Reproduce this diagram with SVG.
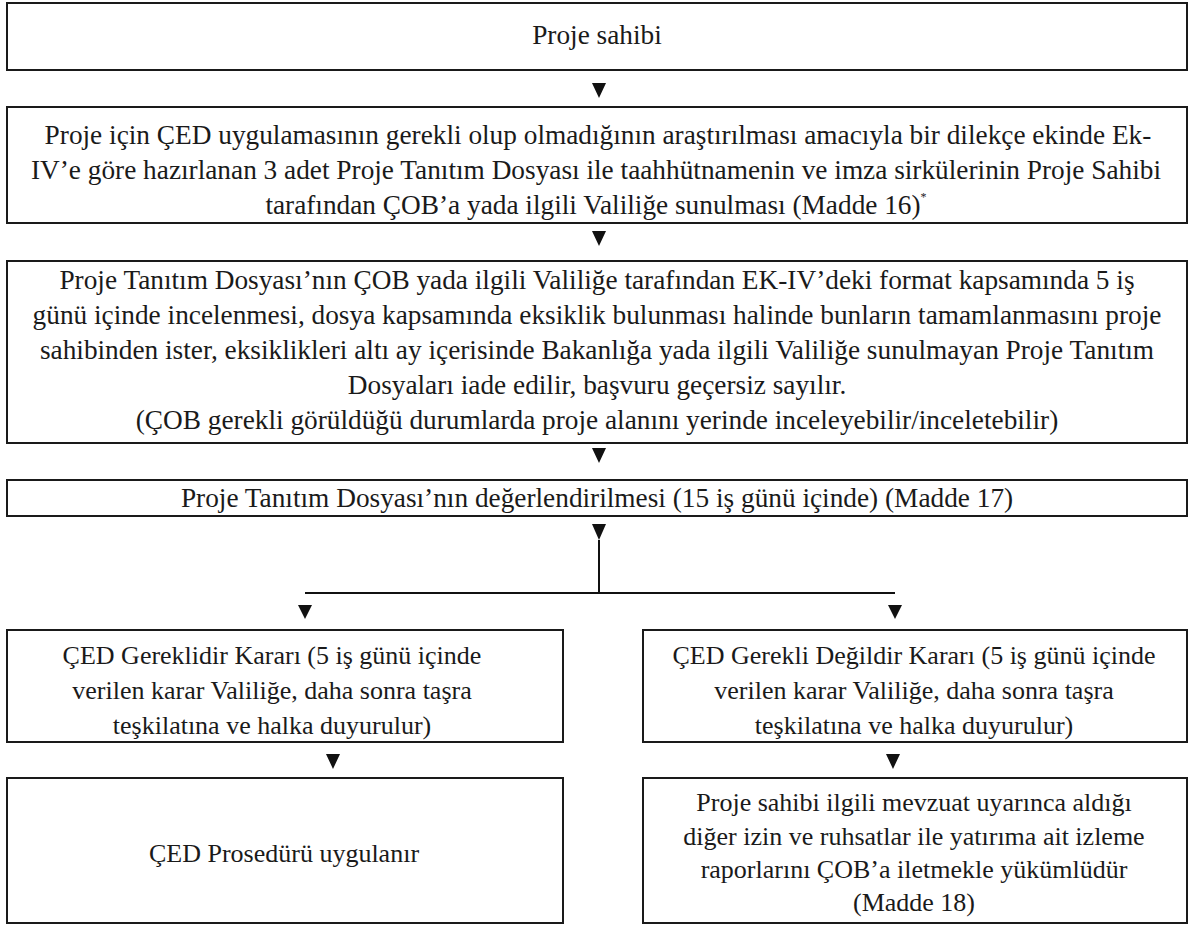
<svg xmlns="http://www.w3.org/2000/svg" width="1189" height="926" viewBox="0 0 1189 926">
<style>
.box{fill:#fff;stroke:#1a1a1a;stroke-width:2}
.t{font-family:'Liberation Serif','DejaVu Serif','Times New Roman',serif;font-size:27.3px;fill:#1a1a1a;text-anchor:middle}
.s{font-size:26px}
.arr{fill:#111}
.ln{stroke:#111;stroke-width:2;fill:none}
</style>
<rect width="1189" height="926" fill="#fff"/>
<g id="n1"><rect class="box" x="7" y="3" width="1180" height="67"/><text class="t" x="597" y="44">Proje sahibi</text></g>
<g id="n2"><rect class="box" x="7" y="107" width="1180" height="116"/>
<text class="t" x="598" y="144">Proje için ÇED uygulamasının gerekli olup olmadığının araştırılması amacıyla bir dilekçe ekinde Ek-</text>
<text class="t" x="596" y="179">IV’e göre hazırlanan 3 adet Proje Tanıtım Dosyası ile taahhütnamenin ve imza sirkülerinin Proje Sahibi</text>
<text class="t" x="596" y="214">tarafından ÇOB’a yada ilgili Valiliğe sunulması (Madde 16)<tspan font-size="12" dy="-13">*</tspan></text></g>
<g id="n3"><rect class="box" x="7" y="261" width="1180" height="182"/>
<text class="t" x="597" y="289">Proje Tanıtım Dosyası’nın ÇOB yada ilgili Valiliğe tarafından EK-IV’deki format kapsamında 5 iş</text>
<text class="t" x="597" y="324">günü içinde incelenmesi, dosya kapsamında eksiklik bulunması halinde bunların tamamlanmasını proje</text>
<text class="t" x="597" y="359">sahibinden ister, eksiklikleri altı ay içerisinde Bakanlığa yada ilgili Valiliğe sunulmayan Proje Tanıtım</text>
<text class="t" x="597" y="394">Dosyaları iade edilir, başvuru geçersiz sayılır.</text>
<text class="t" x="597" y="429">(ÇOB gerekli görüldüğü durumlarda proje alanını yerinde inceleyebilir/inceletebilir)</text></g>
<g id="n4"><rect class="box" x="7" y="480" width="1180" height="36"/>
<text class="t" x="597" y="507">Proje Tanıtım Dosyası’nın değerlendirilmesi (15 iş günü içinde) (Madde 17)</text></g>
<g id="n5"><rect class="box" x="7" y="630" width="556" height="112"/>
<text class="t s" x="272" y="664">ÇED Gereklidir Kararı (5 iş günü içinde</text>
<text class="t s" x="272" y="699">verilen karar Valiliğe, daha sonra taşra</text>
<text class="t s" x="272" y="734">teşkilatına ve halka duyurulur)</text></g>
<g id="n6"><rect class="box" x="643" y="630" width="544" height="112"/>
<text class="t s" x="914" y="664">ÇED Gerekli Değildir Kararı (5 iş günü içinde</text>
<text class="t s" x="914" y="699">verilen karar Valiliğe, daha sonra taşra</text>
<text class="t s" x="914" y="734">teşkilatına ve halka duyurulur)</text></g>
<g id="n7"><rect class="box" x="7" y="778" width="556" height="145"/>
<text class="t s" x="284" y="862">ÇED Prosedürü uygulanır</text></g>
<g id="n8"><rect class="box" x="643" y="778" width="544" height="145"/>
<text class="t s" x="914" y="811">Proje sahibi ilgili mevzuat uyarınca aldığı</text>
<text class="t s" x="914" y="845">diğer izin ve ruhsatlar ile yatırıma ait izleme</text>
<text class="t s" x="914" y="878">raporlarını ÇOB’a iletmekle yükümlüdür</text>
<text class="t s" x="914" y="911">(Madde 18)</text></g>
<g id="connectors">
<polygon class="arr" points="592,83 606,83 599,98"/>
<polygon class="arr" points="592,231 606,231 599,246"/>
<polygon class="arr" points="592,448 606,448 599,463"/>
<polygon class="arr" points="592,524 606,524 599,540"/>
<path class="ln" d="M599,540 V593 M305,593 H895"/>
<polygon class="arr" points="298,605 312,605 305,619"/>
<polygon class="arr" points="888,605 902,605 895,619"/>
<polygon class="arr" points="326,754 340,754 333,769"/>
<polygon class="arr" points="886,754 900,754 893,769"/>
</g>
</svg>
